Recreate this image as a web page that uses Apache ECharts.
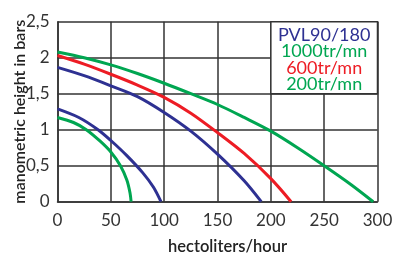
<!DOCTYPE html>
<html>
<head>
<meta charset="utf-8">
<script src="https://cdn.jsdelivr.net/npm/echarts@6/dist/echarts.min.js"></script>
<style>
  html, body { margin: 0; padding: 0; background: #fff; }
  #chart { width: 395px; height: 254px; }
</style>
</head>
<body>
<div id="chart"></div>
<script>
// curves: [hectoliters/hour, bars]
const green1000 = [[0, 2.08], [25, 2.0], [50, 1.9], [75, 1.78], [100, 1.645], [125, 1.5], [150, 1.35], [175, 1.17], [200, 0.98], [225, 0.75], [250, 0.5], [275, 0.24], [296, 0]]
const red600 = [[0, 2.03], [25, 1.91], [50, 1.77], [75, 1.62], [100, 1.45], [125, 1.23], [150, 0.96], [175, 0.67], [200, 0.32], [219, 0]]
const blueTop = [[0, 1.865], [25, 1.75], [50, 1.61], [75, 1.46], [100, 1.24], [125, 0.98], [150, 0.66], [175, 0.29], [191, 0]]
const blueLow = [[0, 1.29], [20, 1.17], [38, 1.0], [50, 0.85], [65, 0.64], [80, 0.4], [90, 0.2], [97, 0]]
const green200 = [[0, 1.17], [15, 1.1], [27, 1.0], [40, 0.84], [50, 0.69], [59, 0.5], [65, 0.3], [68, 0.12], [69, 0]]

const legendLines = ['PVL90/180', '1000tr/mn', '600tr/mn', '200tr/mn']

const BLUE = '#2e3192'
const GREEN = '#00a651'
const RED = '#ed1c24'
const FONT = 'Lato'

const chart = echarts.init(document.getElementById('chart'))

function curve(data, color) {
  return {
    type: 'line',
    data: data,
    smooth: 0.3,
    showSymbol: false,
    silent: true,
    lineStyle: { color: color, width: 3 },
    z: 3
  }
}

const series = [
  curve(green1000, GREEN),
  curve(red600, RED),
  curve(blueTop, BLUE),
  curve(blueLow, BLUE),
  curve(green200, GREEN)
]

// white box with the legend text, covering the upper right cells
series[0].markArea = {
  silent: true,
  itemStyle: { color: '#fff', borderColor: '#333', borderWidth: 1.5 },
  label: {
    show: true,
    position: 'inside',
    offset: [0, 2],
    formatter: '{a|' + legendLines[0] + '}\n{g|' + legendLines[1] + '}\n{r|' + legendLines[2] + '}\n{g|' + legendLines[3] + '}',
    rich: {
      a: { color: BLUE, fontSize: 18, lineHeight: 16.5, fontFamily: FONT, align: 'center' },
      g: { color: GREEN, fontSize: 18, lineHeight: 16.5, fontFamily: FONT, align: 'center' },
      r: { color: RED, fontSize: 18, lineHeight: 16.5, fontFamily: FONT, align: 'center' }
    }
  },
  data: [[{ xAxis: 200, yAxis: 1.5 }, { xAxis: 300, yAxis: 2.5 }]]
}

chart.setOption({
  animation: false,
  grid: { left: 57.5, top: 21.7, right: 17.5, bottom: 52.3, outerBoundsMode: 'none', containLabel: false },
  xAxis: {
    type: 'value',
    min: 0,
    max: 300,
    interval: 50,
    name: 'hectoliters/hour',
    nameLocation: 'middle',
    nameGap: 36,
    nameMoveOverlap: false,
    nameTextStyle: { color: '#222', fontSize: 16.5, fontWeight: 600, fontFamily: FONT, padding: [0, 0, 0, 20] },
    axisLine: { lineStyle: { color: '#333', width: 1.5 } },
    axisTick: { show: false },
    axisLabel: { color: '#333', fontSize: 17, fontFamily: FONT, margin: 10 },
    splitLine: { lineStyle: { color: '#333', width: 1.5 } }
  },
  yAxis: {
    type: 'value',
    min: 0,
    max: 2.5,
    interval: 0.5,
    name: 'manometric height in bars',
    nameLocation: 'middle',
    nameGap: 30,
    nameMoveOverlap: false,
    nameTextStyle: { color: '#222', fontSize: 16, fontWeight: 600, fontFamily: FONT },
    axisLine: { show: true, lineStyle: { color: '#333', width: 1.5 } },
    axisTick: { show: false },
    axisLabel: {
      color: '#333',
      fontSize: 17,
      fontFamily: FONT,
      margin: 8,
      formatter: v => String(v).replace('.', ',')
    },
    splitLine: { lineStyle: { color: '#333', width: 1.5 } }
  },
  series: series
})
</script>
</body>
</html>
